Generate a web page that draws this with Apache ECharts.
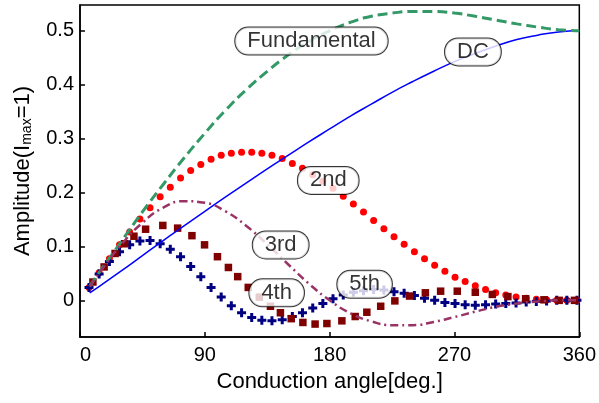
<!DOCTYPE html>
<html><head><meta charset="utf-8">
<script src="https://cdn.jsdelivr.net/npm/echarts@6/dist/echarts.min.js"></script>
<style>html,body{margin:0;padding:0;background:#fff}#chart{width:599px;height:403px}</style>
</head><body><div id="chart"></div>
<script>
// ---- data ----
const xTicks = [0, 90, 180, 270, 360];
const yTicks = [0, 0.1, 0.2, 0.3, 0.4, 0.5];

const lineAngles = [7, 15, 30, 45, 60, 75, 90, 105, 120, 135, 150, 165, 180, 195, 210, 225, 240, 255, 270, 285, 300, 315, 330, 345, 360];
const dcValues = [0.014, 0.028, 0.055, 0.083, 0.111, 0.138, 0.165, 0.192, 0.218, 0.244, 0.269, 0.294, 0.318, 0.342, 0.364, 0.386, 0.406, 0.425, 0.443, 0.458, 0.472, 0.484, 0.492, 0.498, 0.500];
const fundamentalValues = [0.026, 0.056, 0.110, 0.164, 0.215, 0.264, 0.310, 0.353, 0.391, 0.425, 0.455, 0.480, 0.500, 0.516, 0.527, 0.533, 0.536, 0.536, 0.533, 0.527, 0.520, 0.513, 0.507, 0.502, 0.500];
const thirdValues = [0.026, 0.055, 0.104, 0.144, 0.172, 0.184, 0.181, 0.165, 0.138, 0.104, 0.067, 0.031, 0.000, -0.024, -0.039, -0.046, -0.046, -0.040, -0.031, -0.021, -0.012, -0.006, -0.002, 0.000, 0.000];

const markerAngles = [6.5, 13.8, 21.2, 28.5, 35.8, 43.2, 50.5, 57.8, 65.1, 72.5, 79.8, 87.1, 94.5, 101.8, 109.1, 116.5, 123.8, 131.1, 138.4, 145.8, 153.1, 160.4, 167.8, 175.1, 182.4, 189.8, 197.1, 204.4, 211.7, 219.1, 226.4, 233.7, 241.1, 248.4, 255.7, 263.1, 270.4, 277.7, 285.0, 292.4, 299.7, 307.0, 314.4, 321.7, 329.0, 336.4, 343.7, 351.0, 358.3];
const secondValues = [0.024, 0.051, 0.077, 0.103, 0.127, 0.151, 0.172, 0.192, 0.210, 0.227, 0.241, 0.252, 0.262, 0.269, 0.273, 0.275, 0.275, 0.273, 0.269, 0.263, 0.254, 0.245, 0.233, 0.221, 0.208, 0.193, 0.179, 0.164, 0.148, 0.133, 0.118, 0.104, 0.090, 0.077, 0.065, 0.054, 0.043, 0.035, 0.027, 0.020, 0.014, 0.010, 0.006, 0.004, 0.002, 0.001, 0.000, 0.000, 0.000];
const fifthValues = [0.024, 0.049, 0.072, 0.090, 0.103, 0.110, 0.111, 0.105, 0.095, 0.081, 0.063, 0.044, 0.024, 0.006, -0.010, -0.023, -0.032, -0.037, -0.038, -0.036, -0.030, -0.023, -0.014, -0.006, 0.003, 0.010, 0.015, 0.018, 0.020, 0.019, 0.016, 0.013, 0.009, 0.004, 0.000, -0.004, -0.006, -0.008, -0.009, -0.008, -0.007, -0.006, -0.005, -0.003, -0.002, -0.001, 0.000, 0.000, 0.000];

const fourthAngles = [9.3, 17.4, 25.3, 32.2, 38.9, 47.3, 59.7, 70.4, 80.7, 89.8, 99.1, 107, 113.7, 121.3, 129.3, 137.3, 144.5, 152.3, 160.7, 169.5, 178, 188.8, 198.4, 206.8, 216.8, 227, 237.6, 249, 260, 272, 285, 297.3, 308.5, 321.3, 334.5, 345.5, 356.5];
const fourthValues = [0.034, 0.062, 0.087, 0.105, 0.119, 0.132, 0.139, 0.134, 0.120, 0.103, 0.081, 0.061, 0.044, 0.024, 0.006, -0.011, -0.023, -0.034, -0.041, -0.044, -0.043, -0.038, -0.030, -0.022, -0.011, -0.001, 0.008, 0.014, 0.017, 0.017, 0.015, 0.011, 0.007, 0.003, 0.001, 0.000, 0.000];

const labelNames = ['Fundamental', 'DC', '2nd', '3rd', '4th', '5th'];

// ---- chart ----
const annotationAnchors = [[166.9, 0.481], [283.3, 0.461], [179.0, 0.2225], [144.7, 0.1028], [141.8, 0.0139], [205.2, 0.0297]];
const FONT = '"Liberation Sans", Arial, Helvetica, sans-serif';
const pair = (xs, ys) => xs.map((x, i) => [x, ys[i]]);
const plus = 'path://M3,0H6V3H9V6H6V9H3V6H0V3H3Z';

const chart = echarts.init(document.getElementById('chart'), null, {renderer: 'canvas'});
chart.setOption({
  animation: false,
  backgroundColor: '#fff',
  grid: {left: 80, right: 17, top: 5, bottom: 66, show: true, borderColor: '#000', borderWidth: 1.5, backgroundColor: 'transparent'},
  xAxis: {
    type: 'value', min: xTicks[0], max: xTicks[xTicks.length - 1], interval: 90,
    name: 'Conduction angle[deg.]', nameLocation: 'middle', nameGap: 34,
    nameTextStyle: {fontFamily: FONT, fontSize: 22, color: '#000'},
    axisLine: {onZero: false, lineStyle: {color: '#000', width: 1.5}},
    axisTick: {inside: true, length: 5, lineStyle: {color: '#000', width: 1.5}},
    axisLabel: {fontFamily: FONT, fontSize: 20, color: '#000', margin: 8, alignMinLabel: 'left'},
    splitLine: {show: false}
  },
  yAxis: {
    type: 'value', min: -0.068, max: 0.548,
    name: 'Amplitude(I{sub|max}=1)', nameLocation: 'middle', nameRotate: 90, nameGap: 46,
    nameTextStyle: {fontFamily: FONT, fontSize: 22, color: '#000',
      rich: {sub: {fontFamily: FONT, fontSize: 14, color: '#000', verticalAlign: 'bottom', padding: [6, 0, 0, 0]}}},
    axisLine: {show: true, onZero: false, lineStyle: {color: '#000', width: 1.5}},
    axisTick: {show: true, inside: true, length: 5, customValues: yTicks, lineStyle: {color: '#000', width: 1.5}},
    axisLabel: {fontFamily: FONT, fontSize: 20, color: '#000', margin: 6, customValues: yTicks,
      formatter: v => String(Math.round(v * 10) / 10)},
    splitLine: {show: false}
  },
  series: [
    {name: 'DC', type: 'line', data: pair(lineAngles, dcValues), showSymbol: false, smooth: true,
      lineStyle: {color: '#0000ff', width: 1.5}},
    {name: 'Fundamental', type: 'line', data: pair(lineAngles, fundamentalValues), showSymbol: false, smooth: true,
      lineStyle: {color: '#339966', width: 3, type: [10, 5]}},
    {name: '3rd', type: 'line', data: pair(lineAngles, thirdValues), showSymbol: false, smooth: true,
      lineStyle: {color: '#993366', width: 2.5, type: [8, 4, 2, 4]}},
    {name: '2nd', type: 'scatter', data: pair(markerAngles, secondValues), symbol: 'circle', symbolSize: 7,
      itemStyle: {color: '#ff0000', opacity: 1}},
    {name: '5th', type: 'scatter', data: pair(markerAngles, fifthValues), symbol: plus, symbolSize: 9,
      itemStyle: {color: '#000080', opacity: 1}},
    {name: '4th', type: 'scatter', data: pair(fourthAngles, fourthValues), symbol: 'rect', symbolSize: 7.5,
      itemStyle: {color: '#800000', opacity: 1}},
    {name: 'labels', type: 'scatter', z: 20, silent: true, symbolSize: 1, itemStyle: {color: 'rgba(0,0,0,0)'},
      data: labelNames.map((n, i) => ({name: n, value: annotationAnchors[i]})),
      label: {show: true, position: 'inside', formatter: p => p.name, fontFamily: FONT, fontSize: 22, color: '#000',
        backgroundColor: '#fff', borderColor: '#000', borderWidth: 1, borderRadius: 13, padding: [2, 12, 1, 12], lineHeight: 24}}
  ]
});
</script>
</body></html>
